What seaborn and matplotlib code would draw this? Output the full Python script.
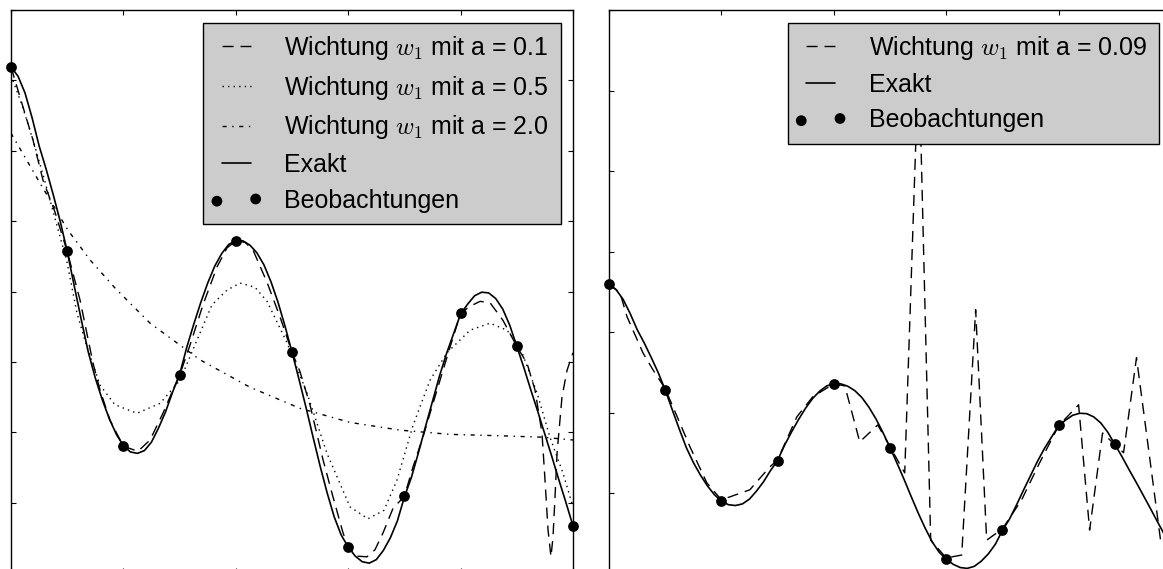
import matplotlib
matplotlib.use("Agg")
import matplotlib.pyplot as plt
from matplotlib.collections import PathCollection
from matplotlib.legend_handler import HandlerPathCollection
import seaborn as sns

sns.set_theme(style="white")
plt.rcParams["font.family"] = ["Liberation Sans", "DejaVu Sans"]
plt.rcParams["mathtext.fontset"] = "cm"
plt.rcParams["text.color"] = "black"

# observations (same samples in both panels)
obs_x = [0.0, 0.5, 1.0, 1.5, 2.0, 2.5, 3.0, 3.5, 4.0, 4.5, 5.0]
obs_y = [7.19, 4.57, 1.80, 2.81, 4.72, 3.14, 0.37, 1.09, 3.69, 3.22, 0.67]

# exact function
exact_x = [0.0, 0.0625, 0.125, 0.1875, 0.25, 0.3125, 0.375, 0.4375,
           0.5, 0.5625, 0.625, 0.6875, 0.75, 0.8125, 0.875, 0.9375,
           1.0, 1.0625, 1.125, 1.1875, 1.25, 1.3125, 1.375, 1.4375,
           1.5, 1.5625, 1.625, 1.6875, 1.75, 1.8125, 1.875, 1.9375,
           2.0, 2.0625, 2.125, 2.1875, 2.25, 2.3125, 2.375, 2.4375,
           2.5, 2.5625, 2.625, 2.6875, 2.75, 2.8125, 2.875, 2.9375,
           3.0, 3.0625, 3.125, 3.1875, 3.25, 3.3125, 3.375, 3.4375,
           3.5, 3.5625, 3.625, 3.6875, 3.75, 3.8125, 3.875, 3.9375,
           4.0, 4.0625, 4.125, 4.1875, 4.25, 4.3125, 4.375, 4.4375,
           4.5, 4.5625, 4.625, 4.6875, 4.75, 4.8125, 4.875, 4.9375, 5.0]
exact_y = [7.19, 7.06, 6.82, 6.47, 6.07, 5.74, 5.38, 5.00,
           4.57, 4.08, 3.60, 3.14, 2.77, 2.46, 2.19, 1.97,
           1.81, 1.72, 1.70, 1.74, 1.86, 2.06, 2.29, 2.57,
           2.82, 3.20, 3.53, 3.84, 4.12, 4.36, 4.54, 4.67,
           4.72, 4.72, 4.66, 4.55, 4.38, 4.14, 3.85, 3.51,
           3.14, 2.75, 2.35, 1.93, 1.52, 1.14, 0.80, 0.54,
           0.37, 0.24, 0.16, 0.14, 0.19, 0.32, 0.50, 0.74,
           1.08, 1.36, 1.71, 2.08, 2.44, 2.80, 3.12, 3.40,
           3.68, 3.82, 3.94, 3.99, 3.98, 3.90, 3.75, 3.52,
           3.22, 2.92, 2.60, 2.29, 1.97, 1.65, 1.32, 1.00, 0.67]

# weighting w1, a = 0.1
a01_x = [0.0, 0.107, 0.196, 0.285, 0.391, 0.5, 0.614, 0.730, 0.792, 0.881,
         1.0, 1.130, 1.237, 1.352, 1.441, 1.5, 1.593, 1.708, 1.833, 1.922,
         2.0, 2.082, 2.153, 2.278, 2.393, 2.5, 2.571, 2.660, 2.776, 2.865,
         2.954, 3.0, 3.078, 3.167, 3.238, 3.310, 3.399, 3.5, 3.577, 3.665,
         3.728, 3.817, 3.906, 4.0, 4.084, 4.173, 4.262, 4.377, 4.5, 4.591,
         4.662, 4.724, 4.751, 4.778, 4.804, 4.822, 4.840, 4.858, 4.902,
         4.947, 5.0]
a01_y = [7.19, 6.62, 6.15, 5.58, 5.13, 4.57, 3.88, 2.98, 2.60, 2.17,
         1.80, 1.73, 1.89, 2.27, 2.60, 2.81, 3.24, 3.81, 4.35, 4.62,
         4.72, 4.70, 4.59, 4.13, 3.64, 3.14, 2.86, 2.39, 1.61, 1.08,
         0.57, 0.37, 0.24, 0.23, 0.33, 0.57, 0.92, 1.09, 1.51, 1.93,
         2.27, 2.74, 3.21, 3.69, 3.79, 3.86, 3.84, 3.59, 3.22, 2.98,
         2.60, 1.99, 1.32, 0.61, 0.23, 0.51, 1.08, 1.70, 2.50,
         2.88, 3.13]

# weighting w1, a = 0.5
a05_x = [0.0, 0.098, 0.196, 0.294, 0.391, 0.498, 0.587, 0.676, 0.792, 0.925,
         1.121, 1.326, 1.504, 1.655, 1.788, 1.922, 2.037, 2.171, 2.278, 2.456,
         2.633, 2.811, 3.016, 3.176, 3.318, 3.434, 3.577, 3.728, 3.879, 4.084,
         4.262, 4.413, 4.528, 4.680, 4.795, 4.911, 5.0]
a05_y = [7.07, 6.65, 6.15, 5.61, 5.04, 4.42, 3.69, 3.21, 2.67, 2.39,
         2.27, 2.41, 2.74, 3.31, 3.81, 4.02, 4.12, 4.06, 3.86, 3.27,
         2.56, 1.70, 0.94, 0.77, 0.89, 1.32, 2.10, 2.74, 3.13, 3.45,
         3.55, 3.45, 3.21, 2.56, 1.93, 1.42, 0.94]

# weighting w1, a = 2.0
a20_x = [0.0, 0.258, 0.507, 0.703, 0.925, 1.237, 1.681, 2.126, 2.571, 3.016,
         3.461, 3.906, 4.351, 4.724, 5.0]
a20_y = [6.25, 5.54, 4.87, 4.45, 4.05, 3.55, 3.03, 2.64, 2.34, 2.14,
         2.03, 1.97, 1.95, 1.93, 1.89]

# weighting w1, a = 0.09
a009_x = [0.0, 0.098, 0.160, 0.302, 0.391, 0.5, 0.569, 0.720, 0.871, 1.0,
          1.253, 1.431, 1.5, 1.671, 1.813, 2.0, 2.098, 2.231, 2.391, 2.5,
          2.631, 2.756, 2.862, 3.0, 3.138, 3.262, 3.360, 3.5, 3.671, 3.831,
          4.0, 4.178, 4.276, 4.391, 4.578, 4.693, 4.907]
a009_y = [7.20, 6.98, 6.39, 5.49, 5.07, 4.60, 4.15, 3.16, 2.26, 1.84,
          2.09, 2.66, 2.83, 3.90, 4.40, 4.72, 4.67, 3.28, 3.70, 3.16,
          2.51, 12.92, 0.84, 0.40, 0.47, 6.56, 0.84, 1.12, 1.84, 2.76,
          3.68, 4.20, 1.09, 3.50, 3.01, 5.37, 0.84]

left_labels = [r"Wichtung $w_1$ mit a = 0.1",
               r"Wichtung $w_1$ mit a = 0.5",
               r"Wichtung $w_1$ mit a = 2.0",
               "Exakt", "Beobachtungen"]
right_labels = [r"Wichtung $w_1$ mit a = 0.09", "Exakt", "Beobachtungen"]

W, H = 1163, 569
fig = plt.figure(figsize=(W / 100, H / 100), dpi=100)
ax1 = fig.add_axes([11 / W, (H - 573) / H, 562 / W, 563 / H])
ax2 = fig.add_axes([609 / W, (H - 574) / H, 562 / W, 564 / H])

DASH = (0, (8, 5))
DOT = (0, (1, 3))
DASHDOT = (0, (3, 4, 1, 4))
LW = 1.0

def style_axes(ax, ymax, ystep):
    ax.set_xlim(0, 5)
    ax.set_ylim(0, ymax)
    ax.set_xticks(range(0, 6))
    ax.set_yticks(range(0, ymax + 1, ystep))
    ax.tick_params(direction="in", length=3.5, width=0.8, color="black",
                   top=True, right=True, bottom=True, left=True,
                   labelbottom=False, labelleft=False)
    for s in ax.spines.values():
        s.set_color("black")
        s.set_linewidth(1.0)
        s.set_visible(True)

def legend(ax, labels, spacing):
    leg = ax.legend(ax.get_legend_handles_labels()[0], labels,
                    loc="upper right", fontsize=18, frameon=True,
                    fancybox=False, facecolor="#cccccc", edgecolor="black",
                    framealpha=1.0, handlelength=1.75, handletextpad=1.05,
                    labelspacing=spacing, borderpad=0.45, borderaxespad=0.5,
                    scatterpoints=2, numpoints=2,
                    handler_map={PathCollection: HandlerPathCollection(marker_pad=0.1)})
    leg.get_frame().set_linewidth(1.0)
    for t in leg.get_texts():
        t.set_color("black")

# left panel
sns.lineplot(x=a01_x, y=a01_y, ax=ax1, color="black", lw=LW, linestyle=DASH,
             sort=False, estimator=None, label=left_labels[0])
sns.lineplot(x=a05_x, y=a05_y, ax=ax1, color="black", lw=LW, linestyle=DOT,
             sort=False, estimator=None, label=left_labels[1])
sns.lineplot(x=a20_x, y=a20_y, ax=ax1, color="black", lw=LW, linestyle=DASHDOT,
             sort=False, estimator=None, label=left_labels[2])
sns.lineplot(x=exact_x, y=exact_y, ax=ax1, color="black", lw=1.2,
             sort=False, estimator=None, label=left_labels[3])
sns.scatterplot(x=obs_x, y=obs_y, ax=ax1, color="black", s=60, edgecolor="black",
                linewidth=0, label=left_labels[4], zorder=5, clip_on=False)
style_axes(ax1, 8, 1)
legend(ax1, left_labels, 0.47)

# right panel
sns.lineplot(x=a009_x, y=a009_y, ax=ax2, color="black", lw=LW, linestyle=DASH,
             sort=False, estimator=None, label=right_labels[0])
sns.lineplot(x=exact_x, y=exact_y, ax=ax2, color="black", lw=1.2,
             sort=False, estimator=None, label=right_labels[1])
sns.scatterplot(x=obs_x, y=obs_y, ax=ax2, color="black", s=60, edgecolor="black",
                linewidth=0, label=right_labels[2], zorder=5, clip_on=False)
style_axes(ax2, 14, 2)
legend(ax2, right_labels, 0.45)

fig.savefig("out.png", dpi=100)
